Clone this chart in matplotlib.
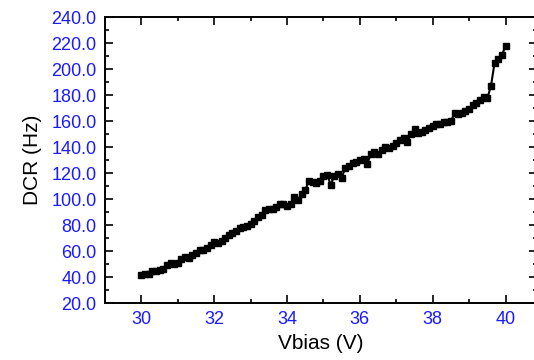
import numpy as np
import matplotlib
matplotlib.use("Agg")
import matplotlib.pyplot as plt
from matplotlib.ticker import MultipleLocator, FormatStrFormatter

# bias voltage (V), 0.1 V steps
vbias = np.round(np.arange(30.0, 40.01, 0.1), 1)

# dark count rate (Hz)
dcr = [41.5, 42.0, 42.5, 44.5, 45.0, 45.5, 46.0, 49.0, 50.5, 50.0,
       51.0, 54.0, 55.5, 55.0, 57.0, 58.5, 60.5, 61.0, 62.5, 65.0,
       67.0, 66.5, 67.5, 70.0, 72.5, 74.0, 75.5, 77.5, 78.5, 79.0,
       80.5, 83.0, 86.5, 88.0, 91.5, 92.5, 92.0, 94.0, 96.5, 96.0,
       94.5, 96.0, 101.5, 99.0, 104.0, 107.0, 114.0, 113.0, 112.5, 114.0,
       117.5, 118.5, 111.0, 118.0, 119.0, 116.5, 124.0, 125.5, 127.5, 128.5,
       130.0, 131.0, 127.0, 134.5, 136.0, 135.0, 137.5, 140.0, 139.5, 141.0,
       143.0, 145.5, 147.0, 144.0, 150.0, 154.0, 150.5, 151.5, 153.0, 154.5,
       156.0, 157.5, 158.0, 159.0, 159.5, 160.0, 166.0, 165.5, 166.5, 168.0,
       169.5, 172.0, 173.5, 176.0, 178.5, 177.5, 187.0, 205.0, 207.5, 210.5,
       218.0]

plt.rcParams['font.family'] = ['Liberation Sans', 'DejaVu Sans']

fig = plt.figure(figsize=(5.34, 3.6), dpi=100)
# the frame runs off the right edge of the picture, as in the original
ax = fig.add_axes([105 / 534, 1 - 303 / 360, 431.5 / 534, 286 / 360])

ax.plot(vbias, dcr, color='black', linewidth=1.5, marker='s', markersize=5)

ax.set_xlim(29.0, 40.85)
ax.set_ylim(20, 240)
ax.xaxis.set_major_locator(MultipleLocator(2))
ax.xaxis.set_minor_locator(MultipleLocator(1))
ax.yaxis.set_major_locator(MultipleLocator(20))
ax.yaxis.set_minor_locator(MultipleLocator(10))
ax.yaxis.set_major_formatter(FormatStrFormatter('%.1f'))

ax.tick_params(which='both', direction='in', top=True, right=True,
               width=1.2, labelcolor='#1a1aff', labelsize=13)
ax.tick_params(axis='y', pad=6)
ax.tick_params(axis='x', pad=6)
ax.tick_params(which='major', length=6)
ax.tick_params(which='minor', length=3)
for s in ax.spines.values():
    s.set_linewidth(1.4)

ax.set_xlabel('Vbias (V)', fontsize=15, labelpad=4)
ax.set_ylabel('DCR (Hz)', fontsize=15, labelpad=7)

fig.savefig('out.png', dpi=100)
